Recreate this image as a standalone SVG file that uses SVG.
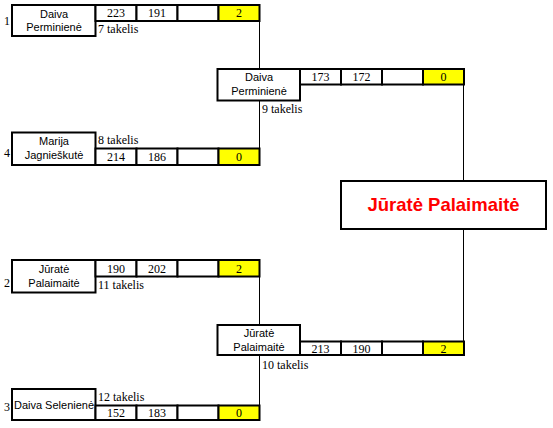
<svg xmlns="http://www.w3.org/2000/svg" width="553" height="428" viewBox="0 0 553 428">
<style>
.box{fill:#fff;stroke:#000;stroke-width:2}
.win{fill:#ffff00;stroke:#000;stroke-width:2}
.ln{stroke:#000;stroke-width:1;fill:none}
.nm{font-family:"Liberation Sans",Arial,sans-serif;font-size:11px;text-anchor:middle;fill:#000}
.sc{font-family:"Liberation Serif","Times New Roman",serif;font-size:12px;text-anchor:middle;fill:#000}
.tk{font-family:"Liberation Serif","Times New Roman",serif;font-size:12px;fill:#000}
.sd{font-family:"Liberation Serif","Times New Roman",serif;font-size:12px;fill:#000}
</style>
<rect width="553" height="428" fill="#fff"/>
<g id="connectors">
<line class="ln" x1="259.5" y1="21" x2="259.5" y2="148"/>
<line class="ln" x1="259.5" y1="277" x2="259.5" y2="406"/>
<line class="ln" x1="463.5" y1="84" x2="463.5" y2="181"/>
<line class="ln" x1="463.5" y1="229" x2="463.5" y2="342"/>
</g>
<g id="match1">
<text class="sd" x="4" y="25">1</text>
<rect class="box" x="12" y="5" width="83.5" height="31"/>
<text class="nm" x="54" y="18">Daiva</text>
<text class="nm" x="54" y="31">Perminienė</text>
<rect class="box" x="95.5" y="5" width="41" height="16"/>
<rect class="box" x="136.5" y="5" width="41" height="16"/>
<rect class="box" x="177.5" y="5" width="41" height="16"/>
<rect class="win" x="218.5" y="5" width="41" height="16"/>
<text class="sc" x="116" y="17">223</text>
<text class="sc" x="157" y="17">191</text>
<text class="sc" x="239" y="17">2</text>
<text class="tk" x="98" y="33">7 takelis</text>
</g>
<g id="match4">
<text class="sd" x="4" y="157">4</text>
<rect class="box" x="12" y="132.5" width="83.5" height="32.5"/>
<text class="nm" x="54" y="145">Marija</text>
<text class="nm" x="54" y="159">Jagnieškutė</text>
<rect class="box" x="95.5" y="148.5" width="41" height="16.5"/>
<rect class="box" x="136.5" y="148.5" width="41" height="16.5"/>
<rect class="box" x="177.5" y="148.5" width="41" height="16.5"/>
<rect class="win" x="218.5" y="148.5" width="41" height="16.5"/>
<text class="sc" x="116" y="161">214</text>
<text class="sc" x="157" y="161">186</text>
<text class="sc" x="239" y="161">0</text>
<text class="tk" x="98" y="144">8 takelis</text>
</g>
<g id="semi1">
<rect class="box" x="217.5" y="69" width="82.5" height="31.5"/>
<text class="nm" x="259" y="81">Daiva</text>
<text class="nm" x="259" y="95">Perminienė</text>
<rect class="box" x="300" y="69" width="41" height="15.5"/>
<rect class="box" x="341" y="69" width="41" height="15.5"/>
<rect class="box" x="382" y="69" width="41" height="15.5"/>
<rect class="win" x="423" y="69" width="41" height="15.5"/>
<text class="sc" x="320.5" y="81">173</text>
<text class="sc" x="361.5" y="81">172</text>
<text class="sc" x="443.5" y="81">0</text>
<text class="tk" x="262" y="113">9 takelis</text>
</g>
<g id="final">
<rect class="box" x="341" y="181" width="205" height="48"/>
<text x="443.5" y="211" font-family="'Liberation Sans',Arial,sans-serif" font-size="18.5" font-weight="bold" fill="#ff0000" text-anchor="middle">Jūratė Palaimaitė</text>
</g>
<g id="match2">
<text class="sd" x="4" y="287">2</text>
<rect class="box" x="12" y="260" width="83.5" height="32.5"/>
<text class="nm" x="54" y="273">Jūratė</text>
<text class="nm" x="54" y="287">Palaimaitė</text>
<rect class="box" x="95.5" y="260" width="41" height="16.5"/>
<rect class="box" x="136.5" y="260" width="41" height="16.5"/>
<rect class="box" x="177.5" y="260" width="41" height="16.5"/>
<rect class="win" x="218.5" y="260" width="41" height="16.5"/>
<text class="sc" x="116" y="273">190</text>
<text class="sc" x="157" y="273">202</text>
<text class="sc" x="239" y="273">2</text>
<text class="tk" x="98" y="289">11 takelis</text>
</g>
<g id="match3">
<text class="sd" x="4" y="411">3</text>
<rect class="box" x="12" y="389" width="83.5" height="31"/>
<text class="nm" x="54" y="409">Daiva Selenienė</text>
<rect class="box" x="95.5" y="405.5" width="41" height="14.5"/>
<rect class="box" x="136.5" y="405.5" width="41" height="14.5"/>
<rect class="box" x="177.5" y="405.5" width="41" height="14.5"/>
<rect class="win" x="218.5" y="405.5" width="41" height="14.5"/>
<text class="sc" x="116" y="417">152</text>
<text class="sc" x="157" y="417">183</text>
<text class="sc" x="239" y="417">0</text>
<text class="tk" x="98" y="401">12 takelis</text>
</g>
<g id="semi2">
<rect class="box" x="217.5" y="325" width="82.5" height="30"/>
<text class="nm" x="259" y="337">Jūratė</text>
<text class="nm" x="259" y="351">Palaimaitė</text>
<rect class="box" x="300" y="341.5" width="41" height="13.5"/>
<rect class="box" x="341" y="341.5" width="41" height="13.5"/>
<rect class="box" x="382" y="341.5" width="41" height="13.5"/>
<rect class="win" x="423" y="341.5" width="41" height="13.5"/>
<text class="sc" x="320.5" y="353">213</text>
<text class="sc" x="361.5" y="353">190</text>
<text class="sc" x="443.5" y="353">2</text>
<text class="tk" x="262" y="369">10 takelis</text>
</g>
</svg>
